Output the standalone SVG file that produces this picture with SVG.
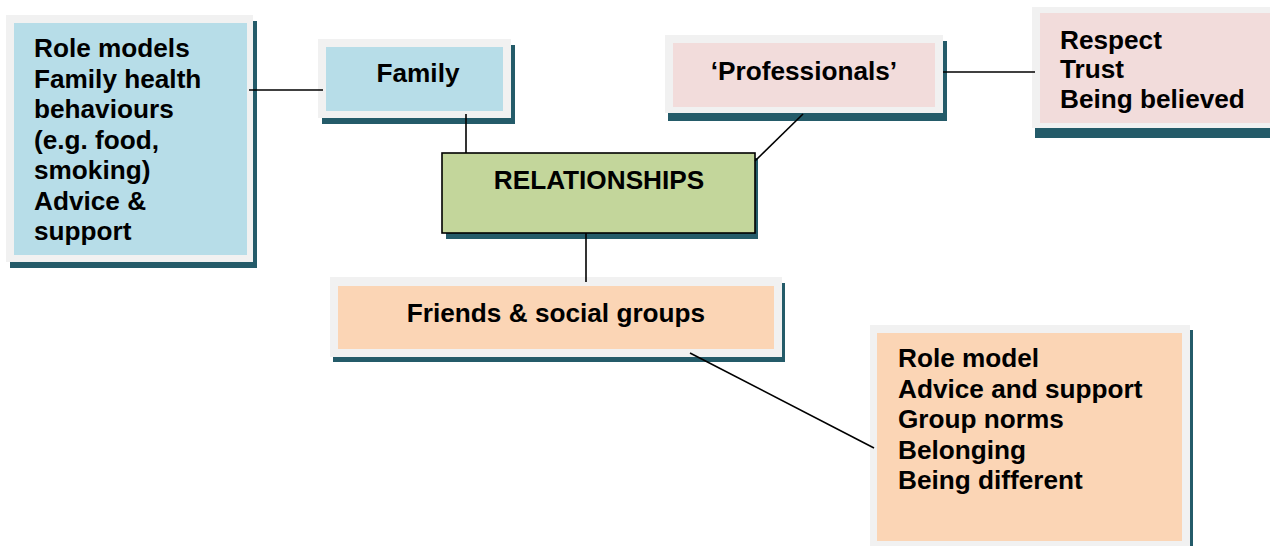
<svg xmlns="http://www.w3.org/2000/svg" width="1270" height="546" viewBox="0 0 1270 546">
<style>
.sh{fill:#245b69}
.gr{fill:#f1f1f1}
.blue{fill:#b7dde8}
.pink{fill:#f2dcdb}
.peach{fill:#fbd5b5}
.green{fill:#c3d69b;stroke:#000;stroke-width:1.6}
text{font-family:"Liberation Sans",Arial,sans-serif;font-weight:bold;font-size:26.2px;fill:#000}
.c{text-anchor:middle}
.ln{stroke:#000;stroke-width:1.6;fill:none}
</style>
<rect width="1270" height="546" fill="#fff"/>
<g id="family-details">
<rect class="sh" x="10" y="21" width="247" height="247"/>
<rect class="gr" x="6" y="15" width="247" height="247"/>
<rect class="blue" x="14" y="23" width="233" height="232"/>
<text x="34" y="57">Role models</text>
<text x="34" y="87.5">Family health</text>
<text x="34" y="118">behaviours</text>
<text x="34" y="148.5">(e.g. food,</text>
<text x="34" y="179">smoking)</text>
<text x="34" y="209.5">Advice &amp;</text>
<text x="34" y="240">support</text>
</g>
<g id="family">
<rect class="sh" x="322" y="45" width="193" height="79"/>
<rect class="gr" x="318" y="39" width="193" height="79"/>
<rect class="blue" x="326" y="47" width="177" height="64"/>
<text class="c" x="418" y="82">Family</text>
</g>
<g id="professionals">
<rect class="sh" x="668" y="41" width="279" height="80"/>
<rect class="gr" x="665" y="35" width="278" height="78"/>
<rect class="pink" x="673" y="43" width="262" height="64"/>
<text class="c" x="804" y="80">‘Professionals’</text>
</g>
<g id="professionals-details">
<rect class="sh" x="1035" y="13" width="260" height="125"/>
<rect class="gr" x="1032" y="7" width="260" height="121"/>
<rect class="pink" x="1040" y="13" width="250" height="110"/>
<text x="1060" y="48.5">Respect</text>
<text x="1060" y="78">Trust</text>
<text x="1060" y="107.5">Being believed</text>
</g>
<g id="relationships">
<rect class="sh" x="446" y="158" width="312" height="81"/>
<rect class="green" x="442" y="153" width="313" height="80"/>
<text class="c" x="599" y="188.5">RELATIONSHIPS</text>
</g>
<g id="friends">
<rect class="sh" x="333" y="283" width="452" height="79"/>
<rect class="gr" x="330" y="277" width="452" height="80"/>
<rect class="peach" x="338" y="286" width="436" height="63"/>
<text class="c" x="556" y="322">Friends &amp; social groups</text>
</g>
<g id="friends-details">
<rect class="sh" x="873" y="330" width="320" height="230"/>
<rect class="gr" x="870" y="325" width="320" height="235"/>
<rect class="peach" x="877" y="333" width="305" height="208"/>
<text x="898" y="367">Role model</text>
<text x="898" y="397.5">Advice and support</text>
<text x="898" y="428">Group norms</text>
<text x="898" y="458.5">Belonging</text>
<text x="898" y="489">Being different</text>
</g>
<g id="connectors">
<line class="ln" x1="249" y1="90" x2="323" y2="90"/>
<line class="ln" x1="466" y1="114" x2="466" y2="153"/>
<line class="ln" x1="803" y1="114" x2="755" y2="161"/>
<line class="ln" x1="943" y1="72" x2="1035" y2="72"/>
<line class="ln" x1="586" y1="233" x2="586" y2="282"/>
<line class="ln" x1="690" y1="353" x2="874" y2="448"/>
</g>
</svg>
